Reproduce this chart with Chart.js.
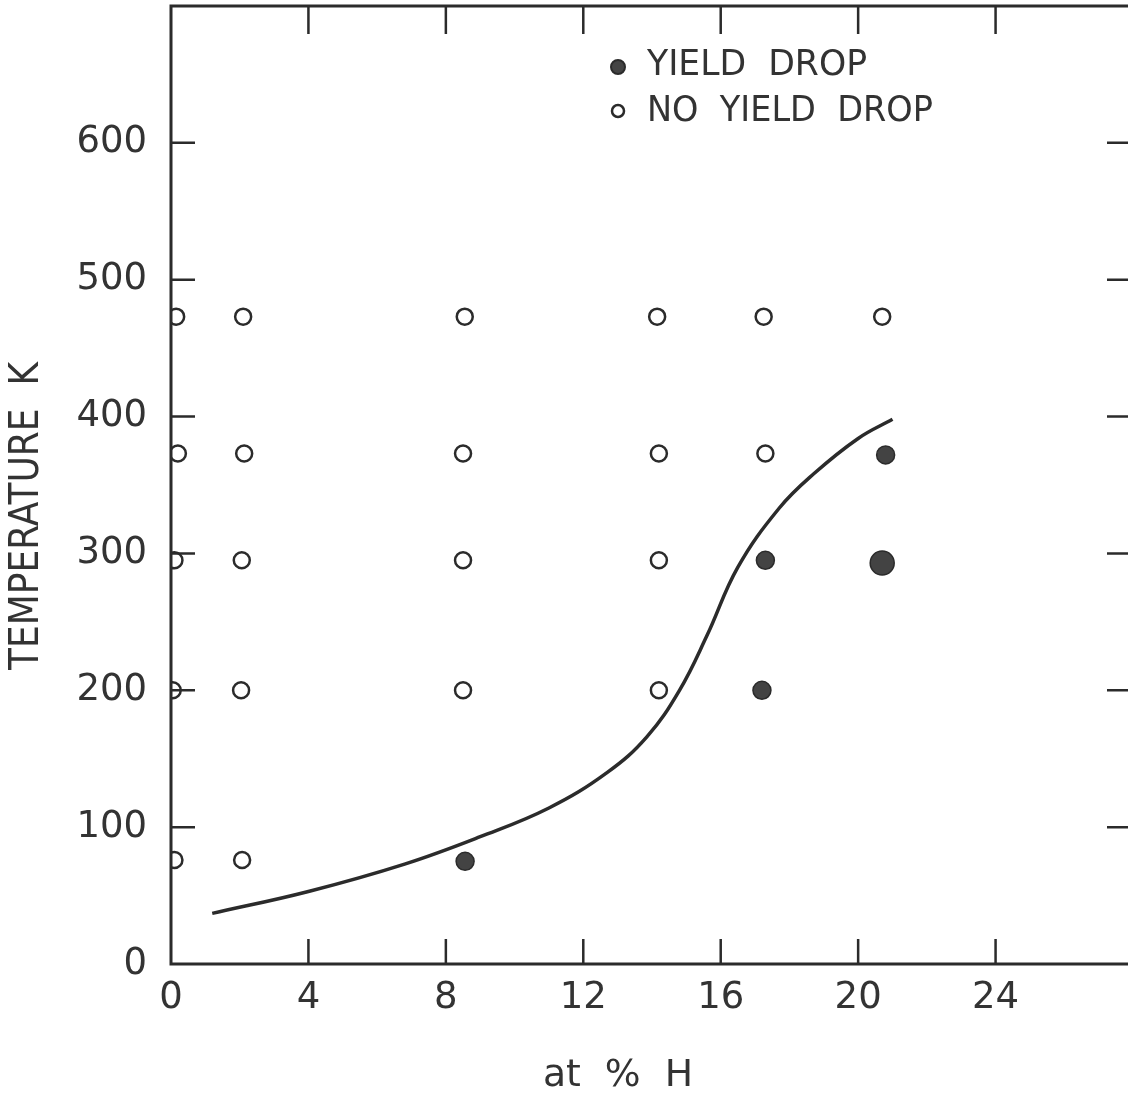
<!DOCTYPE html>
<html lang="en">
  <head>
    <meta charset="UTF-8" />
    <script src="https://cdn.jsdelivr.net/npm/chart.js"></script>
    <title>Yield drop vs hydrogen content</title>
    <style>
      html,
      body {
        margin: 0;
        padding: 0;
        background: #fff;
        overflow: hidden;
      }
      .grafico {
        width: 1140px;
        height: 1102px;
      }
    </style>
  </head>

  <body>
    <div class="grafico">
      <canvas id="graficoYield" width="1140" height="1102"></canvas>
    </div>
  </body>
</html>

<script>
  // at % H and temperature (K) of each test, split by whether a yield drop was seen
  var semQuedaH = [0.15, 2.1, 8.55, 14.15, 17.25, 20.7,
                   0.2, 2.13, 8.5, 14.2, 17.3,
                   0.1, 2.06, 8.5, 14.2,
                   0.05, 2.04, 8.5, 14.2,
                   0.1, 2.07];
  var semQuedaT = [473, 473, 473, 473, 473, 473,
                   373, 373, 373, 373, 373,
                   295, 295, 295, 295,
                   200, 200, 200, 200,
                   76, 76];

  var comQuedaH = [20.8, 17.3, 20.7, 17.2, 8.56];
  var comQuedaT = [372, 295, 293, 200, 75];
  // the 20.7 at%, 293 K point is drawn larger
  var comQuedaRaio = [9, 9, 12, 9, 9];

  // boundary curve
  var curvaH = [1.2, 4.0, 6.8, 9.0, 11.0, 12.7, 13.85, 14.8, 15.6, 16.5, 17.7, 18.7, 20.0, 21.0];
  var curvaT = [37, 53, 73, 93, 114, 140, 166, 200, 240, 290, 333, 358, 384, 398];

  var xMax = 28;
  var yMax = 700;

  var corTinta = "#2b2b2b";
  var corTexto = "#333333";
  var fonte = "'DejaVu Sans', sans-serif";

  function pares(xs, ys) {
    var lista = [];
    for (var i = 0; i < xs.length; i++) {
      lista.push({ x: xs[i], y: ys[i] });
    }
    return lista;
  }

  // fixed axis box sizes, no extra padding for the end labels
  function fixarEixo(largura, altura) {
    return function (scale) {
      if (largura) scale.width = largura;
      if (altura) scale.height = altura;
      scale.paddingTop = 0;
      scale.paddingBottom = 0;
      scale.paddingLeft = 0;
      scale.paddingRight = 0;
    };
  }

  // frame, inward ticks, axis titles and the legend box
  var moldura = {
    id: "moldura",
    afterDraw: function (chart) {
      var ctx = chart.ctx;
      var area = chart.chartArea;
      var sx = chart.scales.x;
      var sy = chart.scales.y;

      ctx.save();
      ctx.strokeStyle = corTinta;
      ctx.lineWidth = 3;
      ctx.strokeRect(area.left, area.top, area.right - area.left, area.bottom - area.top);

      ctx.lineWidth = 2.5;
      ctx.beginPath();
      sx.ticks.forEach(function (t) {
        if (t.value <= 0 || t.value >= xMax) return;
        var px = sx.getPixelForValue(t.value);
        ctx.moveTo(px, area.bottom);
        ctx.lineTo(px, area.bottom - 25);
        ctx.moveTo(px, area.top);
        ctx.lineTo(px, area.top + 28);
      });
      sy.ticks.forEach(function (t) {
        if (t.value <= 0 || t.value >= yMax) return;
        var py = sy.getPixelForValue(t.value);
        ctx.moveTo(area.left, py);
        ctx.lineTo(area.left + 24, py);
        ctx.moveTo(area.right, py);
        ctx.lineTo(area.right - 26, py);
      });
      ctx.stroke();

      // axis titles
      ctx.fillStyle = corTexto;
      ctx.textAlign = "center";
      ctx.textBaseline = "middle";
      ctx.font = "38px " + fonte;
      ctx.fillText("at  %  H", 618, 1076, 150);

      ctx.save();
      ctx.translate(28, 516);
      ctx.rotate(-Math.PI / 2);
      ctx.font = "40px " + fonte;
      ctx.fillText("TEMPERATURE  K", 0, 0, 308);
      ctx.restore();

      // legend
      ctx.textAlign = "left";
      ctx.font = "36px " + fonte;
      ctx.fillText("YIELD  DROP", 647, 66, 220);
      ctx.fillText("NO  YIELD  DROP", 647, 112, 286);

      ctx.beginPath();
      ctx.arc(618, 67, 7, 0, Math.PI * 2);
      ctx.fillStyle = "#444";
      ctx.fill();
      ctx.lineWidth = 2;
      ctx.strokeStyle = corTinta;
      ctx.stroke();

      ctx.beginPath();
      ctx.arc(618, 111, 6, 0, Math.PI * 2);
      ctx.lineWidth = 2.5;
      ctx.stroke();
      ctx.restore();
    },
  };

  var areaGrafico = document.getElementById("graficoYield");

  var grafico = new Chart(areaGrafico, {
    type: "scatter",
    data: {
      datasets: [
        {
          label: "curva",
          type: "line",
          data: pares(curvaH, curvaT),
          borderColor: corTinta,
          borderWidth: 3.5,
          pointRadius: 0,
          tension: 0.4,
          fill: false,
        },
        {
          label: "NO YIELD DROP",
          data: pares(semQuedaH, semQuedaT),
          pointRadius: 8,
          pointBorderWidth: 2.5,
          pointBorderColor: corTinta,
          pointBackgroundColor: "#ffffff",
        },
        {
          label: "YIELD DROP",
          data: pares(comQuedaH, comQuedaT),
          pointRadius: comQuedaRaio,
          pointBorderWidth: 1.5,
          pointBorderColor: corTinta,
          pointBackgroundColor: "#434343",
        },
      ],
    },
    options: {
      responsive: false,
      animation: false,
      layout: {
        autoPadding: false,
        padding: { left: 0, top: 6, right: 7, bottom: 0 },
      },
      plugins: {
        legend: { display: false },
        tooltip: { enabled: false },
      },
      scales: {
        x: {
          type: "linear",
          min: 0,
          max: xMax,
          grid: { display: false, drawTicks: false },
          border: { display: false },
          ticks: {
            stepSize: 4,
            padding: 12,
            color: corTexto,
            font: { family: fonte, size: 37 },
            maxRotation: 0,
            callback: function (v) {
              return v >= xMax ? "" : v;
            },
          },
          afterFit: fixarEixo(0, 138),
        },
        y: {
          min: 0,
          max: yMax,
          grid: { display: false, drawTicks: false },
          border: { display: false },
          ticks: {
            stepSize: 100,
            padding: 24,
            color: corTexto,
            font: { family: fonte, size: 37 },
            callback: function (v) {
              return v >= yMax ? "" : v;
            },
          },
          afterFit: fixarEixo(171, 0),
        },
      },
    },
    plugins: [moldura],
  });
</script>
